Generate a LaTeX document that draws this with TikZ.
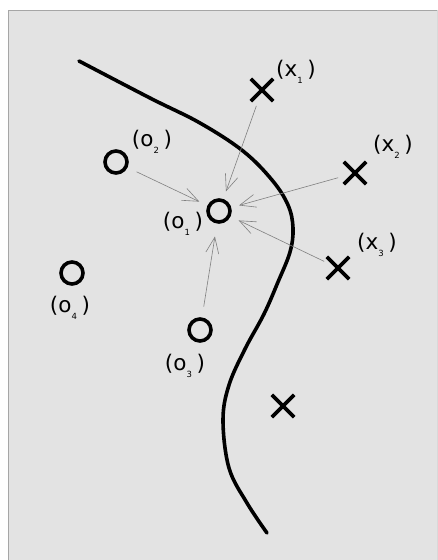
\documentclass[tikz,border=0pt]{standalone}
\usepackage{fontspec}
\setmainfont{DejaVu Sans}
\usetikzlibrary{arrows.meta,shapes.misc}
\newcommand\mylab[2]{(#1\raisebox{-0.6ex}{\fontsize{8.5}{8.5}\selectfont #2}\hspace{0.22em})}
\tikzset{
  opt/.style={circle, draw, line width=3.6pt, minimum size=22pt, inner sep=0pt},
  xpt/.style={cross out, draw, line width=3.8pt, minimum size=18.5pt, inner sep=0pt},
  lbl/.style={font=\fontsize{21.5}{21.5}\selectfont, inner sep=0pt},
  pull/.style={draw=black!50, line width=0.6pt, -{Straight Barb[length=16pt,width=13pt,line width=0.6pt]}},
}
\begin{document}
\begin{tikzpicture}[x=1pt,y=-1pt]
\useasboundingbox (0,0) rectangle (438,560);
\fill[white] (0,0) rectangle (438,560);
\fill[black!11] (8,10) rectangle (437,560);
\draw[black!35, line width=1pt] (8,560) -- (8,10) -- (437,10);
\draw[black!15, line width=0.6pt] (437,10) -- (437,560);
% decision boundary
\draw[line width=3.6pt, line cap=round] plot[smooth, tension=0.6] coordinates {
 (79,61) (150,98) (200,123) (243,151) (272,180) (288,205) (293,228) (290,252)
 (278,282) (264,314) (245,349) (229,385) (223,420) (229,468) (247,503) (267,533)};
% points
\node[opt] (o1) at (219,211) {};
\node[opt] (o2) at (116,162) {};
\node[opt] (o3) at (200,330) {};
\node[opt] (o4) at (72,273) {};
\node[xpt] (x1) at (262,90) {};
\node[xpt] (x2) at (355,173) {};
\node[xpt] (x3) at (338,268) {};
\node[xpt] (x4) at (283,406) {};
% labels
\node[lbl] (lx1) at (296,72) {\mylab{x}{1}};
\node[lbl] (lx2) at (393,147) {\mylab{x}{2}};
\node[lbl] (lx3) at (377,245) {\mylab{x}{3}};
\node[lbl] (lo1) at (183,224) {\mylab{o}{1}};
\node[lbl] (lo2) at (152,142) {\mylab{o}{2}};
\node[lbl] (lo3) at (185,366) {\mylab{o}{3}};
\node[lbl] (lo4) at (70,308) {\mylab{o}{4}};
% arrows to o1
\draw[pull, shorten <=5pt, shorten >=8pt] (x1) -- (o1);
\draw[pull, shorten <=10pt, shorten >=9pt] (o2) -- (o1);
\draw[pull, shorten <=6pt, shorten >=8pt] (x2) -- (o1);
\draw[pull, shorten <=3pt, shorten >=9pt] (x3) -- (o1);
\draw[pull, shorten <=11pt, shorten >=13pt] (o3) -- (o1);
\end{tikzpicture}
\end{document}
